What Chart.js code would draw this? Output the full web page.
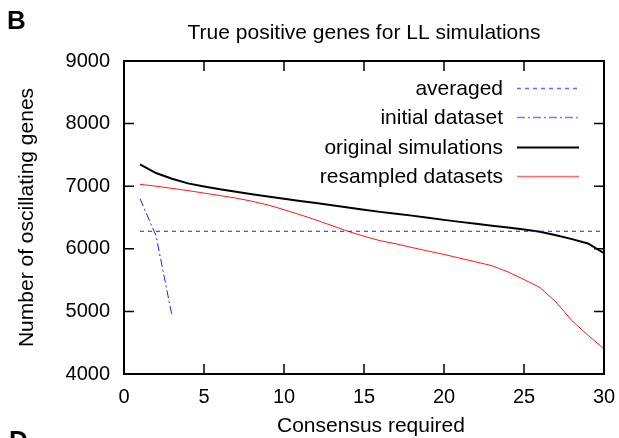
<!DOCTYPE html>
<html>
<head>
<meta charset="utf-8">
<script src="https://cdn.jsdelivr.net/npm/chart.js@4.4.1/dist/chart.umd.min.js"></script>
<style>
  html, body { margin: 0; padding: 0; background: #fff; }
  #wrap { width: 619px; height: 438px; position: relative; }
</style>
</head>
<body>
<div id="wrap"><canvas id="chart"></canvas></div>
<script>
const FONT = '"Liberation Sans", Arial, Helvetica, sans-serif';

// consensus required (x)
const consensus = [1, 2, 3, 4, 5, 6, 7, 8, 9, 10, 11, 12, 13, 14, 15,
                   16, 17, 18, 19, 20, 21, 22, 23, 24, 25, 26, 27, 28, 29, 30];
const originalSims = [7350, 7210, 7120, 7045, 6995, 6950, 6910, 6870, 6835, 6800,
                      6765, 6730, 6695, 6660, 6625, 6590, 6560, 6530, 6495, 6462,
                      6430, 6400, 6370, 6340, 6310, 6272, 6215, 6155, 6085, 5930];
const resampled = [7030, 7000, 6965, 6930, 6890, 6850, 6810, 6760, 6700, 6625,
                   6545, 6460, 6370, 6280, 6200, 6130, 6080, 6020, 5965, 5910,
                   5850, 5790, 5730, 5630, 5510, 5380, 5150, 4850, 4620, 4400];
const initialX = [1, 2, 3];
const initialDataset = [6800, 6210, 4930];
const averagedLevel = 6280;

const xTicks = [0, 5, 10, 15, 20, 25, 30];
const yTicks = [4000, 5000, 6000, 7000, 8000, 9000];

const series = [
  { label: 'averaged', color: '#1a1aff', key: '#6a6aff', width: 1, dash: [4, 4],
    data: consensus.map(c => ({ x: c, y: averagedLevel })) },
  { label: 'initial dataset', color: '#2020ff', key: '#7a7aff', width: 1, dash: [8, 3, 2, 3],
    data: initialX.map((c, i) => ({ x: c, y: initialDataset[i] })) },
  { label: 'original simulations', color: '#000000', key: '#000000', width: 2, dash: [],
    data: consensus.map((c, i) => ({ x: c, y: originalSims[i] })) },
  { label: 'resampled datasets', color: '#ff1a1a', key: '#ff6a6a', width: 1, dash: [],
    data: consensus.map((c, i) => ({ x: c, y: resampled[i] })) }
];

// frame, inward ticks, legend and texts
const decor = {
  id: 'decor',
  afterDraw(chart) {
    const ctx = chart.ctx;
    const a = chart.chartArea;
    const xs = chart.scales.x, ys = chart.scales.y;
    ctx.save();
    ctx.strokeStyle = '#000';
    ctx.lineWidth = 1.5;
    ctx.beginPath();
    xTicks.forEach(v => {
      const px = xs.getPixelForValue(v);
      ctx.moveTo(px, a.bottom); ctx.lineTo(px, a.bottom - 10);
      ctx.moveTo(px, a.top); ctx.lineTo(px, a.top + 10);
    });
    yTicks.forEach(v => {
      const py = ys.getPixelForValue(v);
      ctx.moveTo(a.left, py); ctx.lineTo(a.left + 10, py);
      ctx.moveTo(a.right, py); ctx.lineTo(a.right - 10, py);
    });
    ctx.stroke();
    ctx.lineWidth = 2;
    ctx.strokeRect(a.left, a.top, a.right - a.left, a.bottom - a.top);

    // legend
    ctx.font = '21px ' + FONT;
    ctx.fillStyle = '#000';
    ctx.textAlign = 'right';
    ctx.textBaseline = 'alphabetic';
    series.forEach((s, i) => {
      const y = 88 + i * 29.4;
      ctx.fillText(s.label, 503, y + 7);
      ctx.beginPath();
      ctx.strokeStyle = s.key;
      ctx.lineWidth = s.width > 1 ? 2 : 1.3;
      ctx.setLineDash(s.dash);
      ctx.moveTo(517, Math.round(y) + 0.5);
      ctx.lineTo(579, Math.round(y) + 0.5);
      ctx.stroke();
    });
    ctx.setLineDash([]);

    // titles
    ctx.fillStyle = '#000';
    ctx.textAlign = 'center';
    ctx.font = '21px ' + FONT;
    ctx.fillText('True positive genes for LL simulations', (a.left + a.right) / 2, 39);
    ctx.fillText('Consensus required', 371, 432);
    ctx.save();
    ctx.translate(33, (a.top + a.bottom) / 2);
    ctx.rotate(-Math.PI / 2);
    ctx.fillText('Number of oscillating genes', 0, 0);
    ctx.restore();

    ctx.textAlign = 'left';
    ctx.font = 'bold 26px ' + FONT;
    ctx.fillText('B', 7, 29);
    ctx.fillText('D', 9, 449);
    ctx.restore();
  }
};

new Chart(document.getElementById('chart'), {
  type: 'line',
  data: {
    datasets: series.map(s => ({
      label: s.label,
      data: s.data,
      borderColor: s.color,
      borderWidth: s.width,
      borderDash: s.dash,
      pointRadius: 0,
      tension: 0,
      fill: false
    }))
  },
  options: {
    responsive: true,
    maintainAspectRatio: false,
    animation: false,
    layout: { padding: { top: 61, right: 15, left: 0, bottom: 0 } },
    plugins: { legend: { display: false }, title: { display: false }, tooltip: { enabled: false } },
    scales: {
      x: {
        type: 'linear', min: 0, max: 30,
        afterFit: s => { s.height = 64; s.paddingLeft = 0; s.paddingRight = 0; },
        afterBuildTicks: s => { s.ticks = xTicks.map(v => ({ value: v })); },
        grid: { display: false, drawTicks: false },
        border: { display: false },
        ticks: { color: '#000', font: { family: FONT, size: 20 }, padding: 11, maxRotation: 0,
                 callback: v => String(v) }
      },
      y: {
        type: 'linear', min: 4000, max: 9000,
        afterFit: s => { s.width = 124; s.paddingTop = 0; s.paddingBottom = 0; },
        afterBuildTicks: s => { s.ticks = yTicks.map(v => ({ value: v })); },
        grid: { display: false, drawTicks: false },
        border: { display: false },
        ticks: { color: '#000', font: { family: FONT, size: 20 }, padding: 14,
                 callback: v => String(v) }
      }
    }
  },
  plugins: [decor]
});
</script>
</body>
</html>
